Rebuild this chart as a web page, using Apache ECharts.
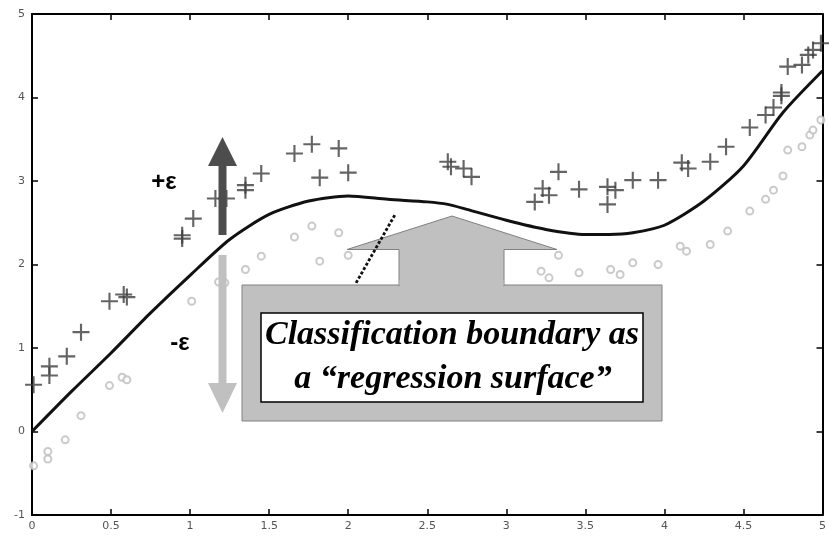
<!DOCTYPE html>
<html>
<head>
<meta charset="utf-8">
<script src="https://cdn.jsdelivr.net/npm/echarts@6/dist/echarts.min.js"></script>
<style>
html,body{margin:0;padding:0;background:#fff;}
#c{width:829px;height:536px;}
</style>
</head>
<body>
<div id="c"></div>
<script>
// ---- data ----
var xTicks = [0, 0.5, 1, 1.5, 2, 2.5, 3, 3.5, 4, 4.5, 5];
var yTicks = [-1, 0, 1, 2, 3, 4, 5];

// class +1 samples (plus markers)
var plusX = [0.01,0.11,0.11,0.22,0.31,0.49,0.58,0.60,0.95,0.95,1.02,1.16,1.23,1.35,1.35,1.45,1.66,1.77,1.94,1.82,2.00,
             2.63,2.65,2.73,2.78,3.33,3.23,3.27,3.18,3.46,3.64,3.69,3.64,3.80,3.96,4.11,4.15,4.29,4.39,4.54,4.64,4.69,
             4.74,4.74,4.78,4.87,4.91,4.94,4.99];
var plusY = [0.56,0.78,0.67,0.90,1.19,1.56,1.64,1.61,2.35,2.31,2.55,2.79,2.79,2.95,2.89,3.09,3.33,3.44,3.39,3.04,3.10,
             3.23,3.17,3.15,3.05,3.11,2.91,2.83,2.75,2.90,2.93,2.89,2.72,3.01,3.01,3.22,3.15,3.23,3.41,3.64,3.79,3.88,
             4.06,4.02,4.37,4.39,4.51,4.57,4.65];

// class -1 samples (circle markers)
var circX = [0.01,0.10,0.10,0.21,0.31,0.49,0.57,0.60,1.01,1.18,1.22,1.35,1.45,1.66,1.77,1.94,1.82,2.00,
             3.33,3.22,3.27,3.46,3.66,3.72,3.80,3.96,4.10,4.14,4.29,4.40,4.54,4.64,4.69,4.75,4.78,4.87,4.92,4.94,4.99];
var circY = [-0.41,-0.24,-0.33,-0.10,0.19,0.55,0.65,0.62,1.56,1.79,1.78,1.94,2.10,2.33,2.46,2.38,2.04,2.11,
             2.11,1.92,1.84,1.90,1.94,1.88,2.02,2.00,2.22,2.16,2.24,2.40,2.64,2.78,2.89,3.06,3.37,3.41,3.55,3.61,3.73];

// regression surface (boundary curve)
var curveX = [0,0.25,0.5,0.75,1.0,1.25,1.5,1.75,2.0,2.25,2.5,2.63,2.75,3.0,3.25,3.5,3.65,3.8,4.0,4.25,4.5,4.75,5.0];
var curveY = [0,0.48,0.94,1.42,1.87,2.30,2.60,2.76,2.82,2.78,2.75,2.72,2.66,2.53,2.42,2.36,2.36,2.38,2.47,2.76,3.18,3.82,4.32];

// short classification boundary segment
var segX = [2.05, 2.30];
var segY = [1.78, 2.61];

function zip(a, b){ return a.map(function(v,i){ return [v, b[i]]; }); }

var plusPath = 'path://M7,0H9V7H16V9H9V16H7V9H0V7H7Z';
var labelStyle = {color:'#555', fontSize:11, fontFamily:'DejaVu Sans'};

var chart = echarts.init(document.getElementById('c'), null, {renderer:'canvas'});
var option = {
  animation:false,
  backgroundColor:'#fff',
  grid:{left:32, right:1, top:14, bottom:21, containLabel:false},
  xAxis:[
    {type:'value', min:0, max:5, interval:0.5, position:'bottom',
     axisLine:{show:true, onZero:false, lineStyle:{color:'#000', width:2}},
     axisTick:{show:true, inside:true, length:6, lineStyle:{color:'#000', width:1.5}},
     axisLabel:Object.assign({margin:6, formatter:function(v){return String(v);}}, labelStyle),
     splitLine:{show:false}},
    {type:'value', min:0, max:5, interval:0.5, position:'top',
     axisLine:{show:true, onZero:false, lineStyle:{color:'#000', width:2}},
     axisTick:{show:true, inside:true, length:6, lineStyle:{color:'#000', width:1.5}},
     axisLabel:{show:false}, splitLine:{show:false}}
  ],
  yAxis:[
    {type:'value', min:-1, max:5, interval:1, position:'left',
     axisLine:{show:true, onZero:false, lineStyle:{color:'#000', width:2}},
     axisTick:{show:true, inside:true, length:6, lineStyle:{color:'#000', width:1.5}},
     axisLabel:Object.assign({margin:7}, labelStyle),
     splitLine:{show:false}},
    {type:'value', min:-1, max:5, interval:1, position:'right',
     axisLine:{show:true, onZero:false, lineStyle:{color:'#000', width:2}},
     axisTick:{show:true, inside:true, length:6, lineStyle:{color:'#000', width:1.5}},
     axisLabel:{show:false}, splitLine:{show:false}}
  ],
  series:[
    {type:'scatter', data:zip(circX, circY), symbol:'emptyCircle', symbolSize:7,
     itemStyle:{color:'#bdbdbd', borderColor:'#bdbdbd', borderWidth:1.1}, z:2},
    {type:'scatter', data:zip(plusX, plusY), symbol:plusPath, symbolSize:17,
     itemStyle:{color:'#3d3d3d'}, z:2},
    {type:'line', data:zip(curveX, curveY), showSymbol:false, symbol:'none', smooth:0.25,
     lineStyle:{color:'#111', width:3}, z:3},
    {type:'line', data:zip(segX, segY), showSymbol:false, symbol:'none',
     lineStyle:{color:'#111', width:2.8, type:[3,2]}, z:12, zlevel:0}
  ]
};
chart.setOption(option);

// annotation overlay (callout, epsilon arrows, text)
var gray = '#c0c0c0', edge = '#808080';
chart.setOption({
  graphic:[
    // big callout box
    {type:'rect', z:10, shape:{x:242, y:285, width:420, height:136},
     style:{fill:gray, stroke:edge, lineWidth:1}},
    // arrow head + stem of callout
    {type:'polygon', z:10,
     shape:{points:[[452,216],[557,249.5],[504,249.5],[504,286],[399,286],[399,249.5],[347,249.5]]},
     style:{fill:gray, stroke:edge, lineWidth:1}},
    {type:'rect', z:10, shape:{x:399.5, y:280, width:104, height:8}, style:{fill:gray}},
    // inner white box
    {type:'rect', z:11, shape:{x:261, y:313, width:382, height:89},
     style:{fill:'#fff', stroke:'#000', lineWidth:1.5}},
    {type:'text', z:12, style:{x:452, y:335, text:'Classification boundary as', align:'center', verticalAlign:'middle',
      font:'italic bold 34px "Liberation Serif", "Times New Roman", serif', fill:'#000'}},
    {type:'text', z:12, style:{x:453, y:379, text:'a \u201cregression surface\u201d', align:'center', verticalAlign:'middle',
      font:'italic bold 34px "Liberation Serif", "Times New Roman", serif', fill:'#000'}},
    // +epsilon arrow (dark, pointing up)
    {type:'rect', z:10, shape:{x:218.5, y:164, width:8, height:71}, style:{fill:'#4d4d4d'}},
    {type:'polygon', z:10, shape:{points:[[222.5,137],[237,166],[208,166]]}, style:{fill:'#4d4d4d'}},
    // -epsilon arrow (light, pointing down)
    {type:'rect', z:10, shape:{x:218.5, y:255, width:8, height:130}, style:{fill:gray}},
    {type:'polygon', z:10, shape:{points:[[208,383],[237,383],[222.5,413]]}, style:{fill:gray}},
    // epsilon labels
    {type:'text', z:12, style:{x:164, y:182, text:'+\u03b5', align:'center', verticalAlign:'middle',
      font:'bold 24px "Liberation Sans", Arial, sans-serif', fill:'#000'}},
    {type:'text', z:12, style:{x:180, y:343, text:'-\u03b5', align:'center', verticalAlign:'middle',
      font:'bold 24px "Liberation Sans", Arial, sans-serif', fill:'#000'}}
  ]
});
</script>
</body>
</html>
